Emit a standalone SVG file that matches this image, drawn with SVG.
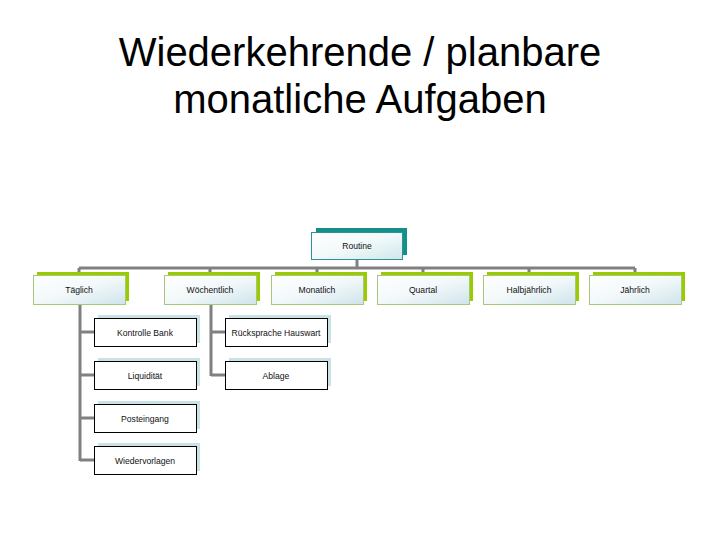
<svg xmlns="http://www.w3.org/2000/svg" width="720" height="540" viewBox="0 0 720 540">
<defs>
<linearGradient id="gTeal" x1="0" y1="0" x2="1" y2="1">
<stop offset="0" stop-color="#ffffff"/>
<stop offset="0.5" stop-color="#f2f9fa"/>
<stop offset="1" stop-color="#cfe7ea"/>
</linearGradient>
<linearGradient id="gGreen" x1="0" y1="0" x2="1" y2="1">
<stop offset="0" stop-color="#ffffff"/>
<stop offset="0.5" stop-color="#f2f8fa"/>
<stop offset="1" stop-color="#cfe4ea"/>
</linearGradient>
<style>
.title{font-family:"Liberation Sans",Arial,sans-serif;font-size:40px;fill:#000;text-anchor:middle}
.lbl{font-family:"Liberation Sans",Arial,sans-serif;font-size:8.6px;fill:#111;text-anchor:middle}
.conn{stroke:#808080;stroke-width:3;fill:none}
.rootBack{fill:#14908c}
.rootFront{fill:url(#gTeal);stroke:#2e9490;stroke-width:1}
.l1Back{fill:#99cc00}
.l1Front{fill:url(#gGreen);stroke:#a9c77c;stroke-width:1}
.l2Back{fill:#c9e2e5}
.l2Front{fill:#ffffff;stroke:#000;stroke-width:1}
</style>
</defs>
<rect width="720" height="540" fill="#ffffff"/>
<text class="title" x="360" y="66">Wiederkehrende / planbare</text>
<text class="title" x="360" y="113">monatliche Aufgaben</text>

<g id="connectors">
<path class="conn" d="M357,259 V268 M79,268 H635 M79,268 V275 M210,268 V275 M317,268 V275 M423,268 V275 M529,268 V275 M635,268 V275"/>
<path class="conn" d="M80,304 V461 M80,332 H94 M80,375 H94 M80,418 H94 M80,460 H94"/>
<path class="conn" d="M211,304 V376 M211,332 H225 M211,375 H225"/>
</g>

<g id="routine">
<rect class="rootBack" x="316" y="228" width="91" height="27"/>
<rect class="rootFront" x="311.5" y="232.5" width="91" height="27"/>
<text class="lbl" x="357" y="249">Routine</text>
</g>

<g id="taeglich">
<rect class="l1Back" x="37" y="272" width="92" height="29"/>
<rect class="l1Front" x="33.5" y="275.5" width="92" height="29"/>
<text class="lbl" x="79" y="293">Täglich</text>
</g>
<g id="woechentlich">
<rect class="l1Back" x="168" y="272" width="92" height="29"/>
<rect class="l1Front" x="164.5" y="275.5" width="92" height="29"/>
<text class="lbl" x="210" y="293">Wöchentlich</text>
</g>
<g id="monatlich">
<rect class="l1Back" x="275" y="272" width="92" height="29"/>
<rect class="l1Front" x="271.5" y="275.5" width="92" height="29"/>
<text class="lbl" x="317" y="293">Monatlich</text>
</g>
<g id="quartal">
<rect class="l1Back" x="381" y="272" width="92" height="29"/>
<rect class="l1Front" x="377.5" y="275.5" width="92" height="29"/>
<text class="lbl" x="423" y="293">Quartal</text>
</g>
<g id="halbjaehrlich">
<rect class="l1Back" x="487" y="272" width="92" height="29"/>
<rect class="l1Front" x="483.5" y="275.5" width="92" height="29"/>
<text class="lbl" x="529" y="293">Halbjährlich</text>
</g>
<g id="jaehrlich">
<rect class="l1Back" x="593" y="272" width="92" height="29"/>
<rect class="l1Front" x="589.5" y="275.5" width="92" height="29"/>
<text class="lbl" x="635" y="293">Jährlich</text>
</g>

<g id="kontrolle-bank">
<rect class="l2Back" x="98" y="315" width="102" height="28"/>
<rect class="l2Front" x="94.5" y="318.5" width="102" height="28"/>
<text class="lbl" x="145" y="335.5">Kontrolle Bank</text>
</g>
<g id="liquiditaet">
<rect class="l2Back" x="98" y="358" width="102" height="28"/>
<rect class="l2Front" x="94.5" y="361.5" width="102" height="28"/>
<text class="lbl" x="145" y="378.5">Liquidität</text>
</g>
<g id="posteingang">
<rect class="l2Back" x="98" y="401" width="102" height="28"/>
<rect class="l2Front" x="94.5" y="404.5" width="102" height="28"/>
<text class="lbl" x="145" y="421.5">Posteingang</text>
</g>
<g id="wiedervorlagen">
<rect class="l2Back" x="98" y="443" width="102" height="28"/>
<rect class="l2Front" x="94.5" y="446.5" width="102" height="28"/>
<text class="lbl" x="145" y="463.5">Wiedervorlagen</text>
</g>
<g id="ruecksprache-hauswart">
<rect class="l2Back" x="229" y="315" width="102" height="28"/>
<rect class="l2Front" x="225.5" y="318.5" width="102" height="28"/>
<text class="lbl" x="276" y="335.5">Rücksprache Hauswart</text>
</g>
<g id="ablage">
<rect class="l2Back" x="229" y="358" width="102" height="28"/>
<rect class="l2Front" x="225.5" y="361.5" width="102" height="28"/>
<text class="lbl" x="276" y="378.5">Ablage</text>
</g>
</svg>
